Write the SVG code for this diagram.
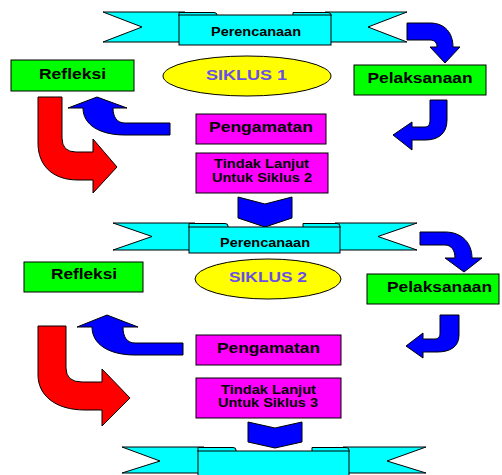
<svg xmlns="http://www.w3.org/2000/svg" width="502" height="475" viewBox="0 0 502 475">
<style>
.s{stroke:#000;stroke-width:1;stroke-linejoin:miter}
.cy{fill:#00FFFF}
.gr{fill:#00FF00}
.mg{fill:#FF00FF}
.bl{fill:#0000FF}
.rd{fill:#FF0000}
.yl{fill:#FFFF00}
text{font-family:"Liberation Sans",Arial,sans-serif;font-weight:bold;text-anchor:middle;fill:#000}
.t11{font-size:12.5px}
.t13{font-size:14.5px}
.tc{font-size:12px}
.sk{font-size:15px;fill:#6A4FE6}
</style>
<rect width="502" height="475" fill="#fff"/>

<g id="connectors">
  <!-- cycle 1 -->
  <path class="s bl" d="M407,23 L430,23 C445,23 453,33 453,47 L460,47 L445,63 L430,47 L437,47 C437,43 435,40 430,40 L407,40 Z"/>
  <path class="s bl" d="M430,100 L447,100 L447,120 C447,134 438,140 425,140 L412,140 L412,150 L393,135 L412,122 L412,127 L425,127 C428,127 430,125 430,120 Z"/>
  <path class="s bl" d="M170,123 L125,123 C117,123 113,117 113,108 L127,108 L97,97 L68,108 L83,108 C83,125 100,135 125,135 L170,135 Z"/>
  <path class="s rd" d="M38,97 L62,97 L62,138 Q62,152 76,152 L93,152 L93,139 L117,167 L93,193 L93,180 L78,180 C52,180 38,165 38,143 Z"/>
  <path class="s bl" d="M238,197 L265,204 L292,197 L292,218 L265,227 L238,218 Z"/>
  <!-- cycle 2 -->
  <path class="s bl" d="M420,232 L445,232 C462,232 472,243 472,258 L482,258 L464,272 L445,258 L455,258 C455,250 451,245 445,245 L420,245 Z"/>
  <path class="s bl" d="M440,315 L459,315 L459,335 C459,347 450,352 437,352 L423,352 L423,358 L406,346 L423,333 L423,339 L435,339 C438,339 440,337 440,333 Z"/>
  <path class="s bl" d="M183,343 L135,343 C127,343 123,337 123,327 L138,327 L107,315 L77,327 L92,327 C92,345 110,355 135,355 L183,355 Z"/>
  <path class="s rd" d="M38,326 L66,326 L66,368 Q66,382 82,382 L102,382 L102,369 L130,398 L102,426 L102,410 L85,410 C55,410 38,395 38,375 Z"/>
  <path class="s bl" d="M248,422 L275,428 L302,422 L302,442 L275,448 L248,442 Z"/>
</g>

<g id="perencanaan1">
  <path class="s cy" d="M103,12 L185,12 L185,42 L103,42 L142,27 Z"/>
  <path class="s cy" d="M407,12 L325,12 L325,42 L407,42 L368,27 Z"/>
  <path class="s cy" d="M179,16 L179,12.5 L214,12.5 Q217,12.5 217,15 L217,16 Z"/>
  <path class="s cy" d="M293,16 L293,12.5 L328,12.5 Q331,12.5 331,15 L331,16 Z"/>
  <rect class="s cy" x="179" y="15" width="152" height="30"/>
  <text class="tc" x="256" y="36" textLength="90" lengthAdjust="spacingAndGlyphs">Perencanaan</text>
</g>

<g id="siklus1">
  <ellipse class="s yl" cx="247" cy="76" rx="84" ry="20"/>
  <text class="sk" x="246.5" y="79.5" textLength="81" lengthAdjust="spacingAndGlyphs">SIKLUS  1</text>
</g>

<g id="refleksi1">
  <rect class="s gr" x="11" y="60" width="123" height="31"/>
  <text class="t13" x="72.5" y="79" textLength="67" lengthAdjust="spacingAndGlyphs">Refleksi</text>
</g>

<g id="pelaksanaan1">
  <rect class="s gr" x="354" y="65" width="132" height="30"/>
  <text class="t13" x="420" y="83" textLength="105" lengthAdjust="spacingAndGlyphs">Pelaksanaan</text>
</g>

<g id="pengamatan1">
  <rect class="s mg" x="196" y="114" width="130" height="30"/>
  <text class="t13" x="261" y="131.5" textLength="104" lengthAdjust="spacingAndGlyphs">Pengamatan</text>
</g>

<g id="tindak1">
  <rect class="s mg" x="196" y="153" width="132" height="40"/>
  <text class="t11" x="261.5" y="168.3" textLength="95" lengthAdjust="spacingAndGlyphs">Tindak Lanjut</text>
  <text class="t11" x="262" y="181.7" textLength="100" lengthAdjust="spacingAndGlyphs">Untuk Siklus 2</text>
</g>

<g id="perencanaan2">
  <path class="s cy" d="M113,223 L195,223 L195,250 L113,250 L152,236.5 Z"/>
  <path class="s cy" d="M417,223 L335,223 L335,250 L417,250 L378,236.5 Z"/>
  <path class="s cy" d="M189,228 L189,223.5 L225,223.5 Q228,223.5 228,226 L228,228 Z"/>
  <path class="s cy" d="M303,228 L303,223.5 L337,223.5 Q340,223.5 340,226 L340,228 Z"/>
  <rect class="s cy" x="189" y="227" width="151" height="26"/>
  <text class="tc" x="265" y="246.5" textLength="90" lengthAdjust="spacingAndGlyphs">Perencanaan</text>
</g>

<g id="siklus2">
  <ellipse class="s yl" cx="268" cy="279" rx="73" ry="20"/>
  <text class="sk" x="268" y="282.3" textLength="78" lengthAdjust="spacingAndGlyphs">SIKLUS 2</text>
</g>

<g id="refleksi2">
  <rect class="s gr" x="24" y="262" width="119" height="30"/>
  <text class="t13" x="84" y="279" textLength="66" lengthAdjust="spacingAndGlyphs">Refleksi</text>
</g>

<g id="pelaksanaan2">
  <rect class="s gr" x="367" y="274" width="132" height="30"/>
  <text class="t13" x="439.5" y="291.7" textLength="105" lengthAdjust="spacingAndGlyphs">Pelaksanaan</text>
</g>

<g id="pengamatan2">
  <rect class="s mg" x="196" y="335" width="145" height="30"/>
  <text class="t13" x="268.5" y="353" textLength="103" lengthAdjust="spacingAndGlyphs">Pengamatan</text>
</g>

<g id="tindak2">
  <rect class="s mg" x="196" y="378" width="145" height="40"/>
  <text class="t11" x="268.5" y="394" textLength="95" lengthAdjust="spacingAndGlyphs">Tindak Lanjut</text>
  <text class="t11" x="268" y="406.5" textLength="100" lengthAdjust="spacingAndGlyphs">Untuk Siklus 3</text>
</g>

<g id="perencanaan3">
  <path class="s cy" d="M122,447 L204,447 L204,473 L122,473 L160,461 Z"/>
  <path class="s cy" d="M426,447 L343,447 L343,473 L426,473 L387,461 Z"/>
  <path class="s cy" d="M198,452 L198,447.5 L233,447.5 Q236,447.5 236,450 L236,452 Z"/>
  <path class="s cy" d="M312,452 L312,447.5 L346,447.5 Q349,447.5 349,450 L349,452 Z"/>
  <rect class="s cy" x="198" y="451" width="151" height="30"/>
</g>
</svg>
